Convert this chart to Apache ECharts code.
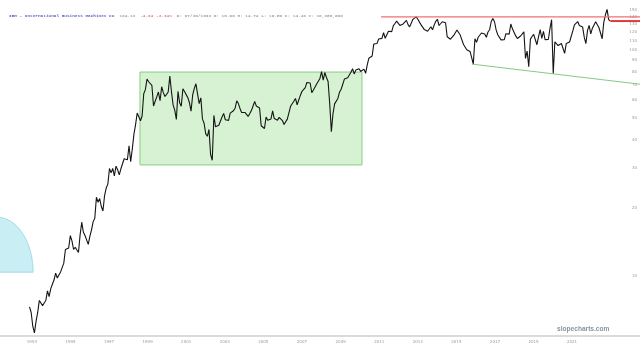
<!DOCTYPE html>
<html><head><meta charset="utf-8">
<script src="https://cdn.jsdelivr.net/npm/echarts@6/dist/echarts.min.js"></script>
<style>html,body{margin:0;padding:0;background:#fff}#c{width:640px;height:347px}</style>
</head><body><div id="c"></div>
<script>
// IBM monthly (dividend-adjusted) prices, Jun 1993 .. Feb 2023
const firstMonth = 1993 + 5 / 12; // June 1993
const monthlyPrice = [
  7.3, 6.9, 6.0, 5.6, 6.3, 6.9, 7.8,                                     // 1993 (Jun-Dec)
  7.9, 7.4, 7.6, 7.8, 8.6, 8.1, 8.8, 9.2, 9.6, 10.3, 9.8, 10.1,           // 1994
  10.4, 10.4, 11.4, 13.1, 12.9, 13.3, 15.1, 14.3, 13.1, 13.4, 13.4, 12.7, // 1995
  15.2, 17.3, 15.6, 15.1, 15.1, 13.8, 15.0, 16.0, 17.4, 18.0, 22.3, 21.2, // 1996
  22.0, 20.3, 19.4, 22.7, 24.5, 25.5, 29.9, 28.6, 29.9, 27.7, 30.6, 29.5, // 1997
  28.0, 29.8, 29.6, 33.0, 33.5, 32.7, 37.7, 32.0, 36.5, 42.4, 46.7, 52.6, // 1998
  52.7, 48.6, 51.0, 64.0, 66.7, 74.3, 72.3, 71.6, 69.6, 56.5, 59.3, 62.0, // 1999
  65.1, 59.6, 68.7, 64.7, 62.2, 63.6, 65.1, 76.6, 65.3, 57.1, 54.2, 49.3, // 2000
  65.5, 58.4, 56.3, 67.3, 65.4, 66.1, 61.5, 58.5, 53.6, 63.2, 67.6, 70.8, // 2001
  63.7, 57.9, 61.4, 49.4, 47.4, 42.5, 41.5, 44.5, 34.4, 32.5, 51.3, 45.7, // 2002
  46.5, 46.4, 46.6, 50.5, 52.4, 49.1, 48.4, 48.8, 52.5, 53.3, 53.8, 55.2, // 2003
  59.5, 57.9, 55.1, 52.9, 53.2, 52.9, 52.3, 50.8, 51.4, 53.9, 56.5, 59.2, // 2004
  56.5, 56.0, 55.3, 46.2, 45.7, 44.9, 50.5, 48.8, 48.5, 49.5, 53.8, 49.7, // 2005
  49.6, 48.9, 50.3, 50.2, 48.7, 46.8, 47.2, 49.4, 50.0, 56.3, 56.1, 59.3, // 2006
  61.0, 57.2, 58.0, 62.9, 65.6, 64.8, 68.1, 71.8, 72.4, 71.4, 64.7, 66.5, // 2007
  66.4, 70.6, 71.4, 74.8, 80.2, 73.5, 79.4, 75.5, 72.5, 57.7, 43.5, 52.2, // 2008
  57.7, 58.0, 61.0, 65.0, 67.0, 65.8, 74.3, 74.4, 75.3, 76.0, 79.6, 82.5, // 2009
  78.3, 81.4, 82.1, 82.6, 80.2, 79.0, 82.2, 78.8, 85.8, 91.9, 90.6, 94.0, // 2010
  106.1, 106.0, 106.8, 111.7, 110.6, 112.4, 119.1, 112.6, 114.6, 120.9, 123.1, 120.5, // 2011
  128.1, 130.8, 134.0, 133.7, 128.3, 130.1, 130.3, 129.6, 135.0, 129.3, 126.4, 127.4, // 2012
  136.5, 135.5, 140.0, 136.7, 138.4, 129.0, 131.6, 123.0, 124.9, 120.9, 121.2, 126.6, // 2013
  122.8, 128.7, 133.8, 136.6, 128.2, 126.0, 133.2, 133.6, 131.9, 114.3, 112.7, 111.5, // 2014
  109.6, 115.8, 114.8, 122.5, 121.3, 116.3, 115.8, 105.7, 103.7, 100.2, 99.7, 98.4,   // 2015
  92.4, 86.5, 112.1, 108.0, 113.7, 112.3, 118.8, 117.6, 117.6, 113.7, 120.0, 122.8,   // 2016
  133.5, 137.5, 133.2, 122.6, 116.7, 117.7, 110.7, 109.4, 111.0, 117.9, 117.8, 117.4, // 2017
  130.1, 123.9, 122.0, 115.3, 112.3, 111.1, 115.2, 116.5, 120.2, 91.7, 98.8, 84.2,    // 2018
  111.6, 114.6, 117.1, 116.4, 105.4, 114.5, 123.0, 112.5, 120.7, 111.0, 111.6, 111.2, // 2019
  124.3, 136.0, 78.4, 108.6, 108.0, 104.5, 106.3, 106.7, 105.3, 96.6, 106.8, 108.9,   // 2020
  108.4, 108.3, 121.3, 129.1, 130.8, 133.4, 128.3, 127.7, 126.4, 113.8, 106.6, 121.7, // 2021
  128.3, 117.6, 124.8, 126.9, 133.2, 135.6, 125.6, 123.4, 112.0, 132.8, 143.0, 151.0, // 2022
  136.0, 134.13                                                                       // 2023
];

const yTickValues = [10, 20, 30, 40, 50, 60, 70, 80, 90, 100, 110, 120, 130, 140, 150];
// year labels sit at evenly spaced bar positions (decimal years)
const xTickLabels = ['1993', '1995', '1997', '1999', '2001', '2003', '2005', '2007', '2009', '2011', '2013', '2015', '2017', '2019', '2021'];
const xTickPositions = [1993.58, 1995.55, 1997.52, 1999.49, 2001.46, 2003.43, 2005.40, 2007.37, 2009.35, 2011.32, 2013.29, 2015.26, 2017.23, 2019.20, 2021.17];
const xRange = [1991.95, 2024.64];
const yRange = [5.43, 166.2];

// annotations (data coordinates: [decimal year, price])
const rangeBoxCorners = [[1999.10, 79.8], [2010.44, 31.0]];
const resistanceLine = [[2011.41, 140], [2024.64, 140]];
const lastPriceLine = [[2023.125, 134.13], [2024.64, 134.13]];
const supportLine = [[2016.06, 86.5], [2024.64, 70.5]];
const arcShape = [[1991.80, 10.4, 1993.64, 18.2]]; // centerYear, centerPrice, edgeYear, topPrice

const priceData = monthlyPrice.map((v, i) => [firstMonth + (i + 0.5) / 12, v]);

function segment(data, color, width, z) {
  return {type: 'line', data: data, showSymbol: false, silent: true, z: z,
          lineStyle: {color: color, width: width}, itemStyle: {color: color}};
}

const chart = echarts.init(document.getElementById('c'), null, {renderer: 'canvas'});
chart.setOption({
  animation: false,
  backgroundColor: '#ffffff',
  title: {
    left: 4, top: 2,
    text: '{a|IBM - International Business Machines Co} {b|134.13} {c|-4.64 -3.34%} {b|D: 07/30/1993 O: 10.66 H: 14.74 L: 10.59 C: 14.49 V: 10,350,000}',
    textStyle: {
      rich: {
        a: {fontSize: 4.4, fontFamily: 'Liberation Mono', color: '#5a66c8'},
        b: {fontSize: 4.4, fontFamily: 'Liberation Mono', color: '#a0a0a0'},
        c: {fontSize: 4.4, fontFamily: 'Liberation Mono', color: '#e08080'}
      }
    }
  },
  graphic: [{
    type: 'text', left: 557, top: 326, z: 100,
    style: {text: 'slopecharts.com', fill: '#8794a2', font: 'bold 6.6px "Liberation Sans"'}
  }],
  grid: {left: 0, right: 0, top: 0, bottom: 11, containLabel: false},
  xAxis: {
    type: 'value', min: xRange[0], max: xRange[1],
    axisLine: {show: true, onZero: false, lineStyle: {color: '#cfcfcf', width: 1.5}},
    axisTick: {show: false},
    splitLine: {show: false},
    axisLabel: {
      customValues: xTickPositions,
      formatter: v => { const i = xTickPositions.findIndex(p => Math.abs(p - v) < 1e-6); return i >= 0 ? xTickLabels[i] : ''; },
      fontSize: 4, color: '#9a9a9a', margin: 4, fontFamily: 'DejaVu Sans'
    }
  },
  yAxis: {
    type: 'log', logBase: 10, min: yRange[0], max: yRange[1], position: 'right',
    axisLine: {show: false}, axisTick: {show: false}, splitLine: {show: false},
    axisLabel: {inside: true, customValues: yTickValues, fontSize: 4, color: '#9a9a9a', margin: 3, fontFamily: 'DejaVu Sans'}
  },
  series: [
    {
      type: 'custom', data: arcShape, silent: true, z: 1, clip: true,
      renderItem: function (params, api) {
        const c = api.coord([api.value(0), api.value(1)]);
        const e = api.coord([api.value(2), api.value(1)]);
        const t = api.coord([api.value(0), api.value(3)]);
        const rx = e[0] - c[0], ry = c[1] - t[1];
        const pts = [];
        for (let k = 0; k <= 60; k++) {
          const a = Math.PI * k / 60;
          pts.push([c[0] + rx * Math.cos(a), c[1] - ry * Math.sin(a)]);
        }
        return {type: 'polygon', shape: {points: pts}, style: {fill: '#c9eef3', stroke: '#8fd6e0', lineWidth: 0.8}};
      }
    },
    {
      type: 'line', data: priceData, showSymbol: false, z: 3,
      lineStyle: {color: '#151515', width: 1.1},
      markArea: {
        silent: true,
        itemStyle: {color: 'rgba(140, 215, 130, 0.35)', borderColor: '#86cf80', borderWidth: 1},
        data: [[{coord: rangeBoxCorners[0]}, {coord: rangeBoxCorners[1]}]]
      }
    },
    segment(resistanceLine, '#f07070', 1.1, 4),
    segment(supportLine, '#86c986', 1, 4),
    segment(lastPriceLine, '#e03a3a', 2, 5)
  ]
});
</script></body></html>
